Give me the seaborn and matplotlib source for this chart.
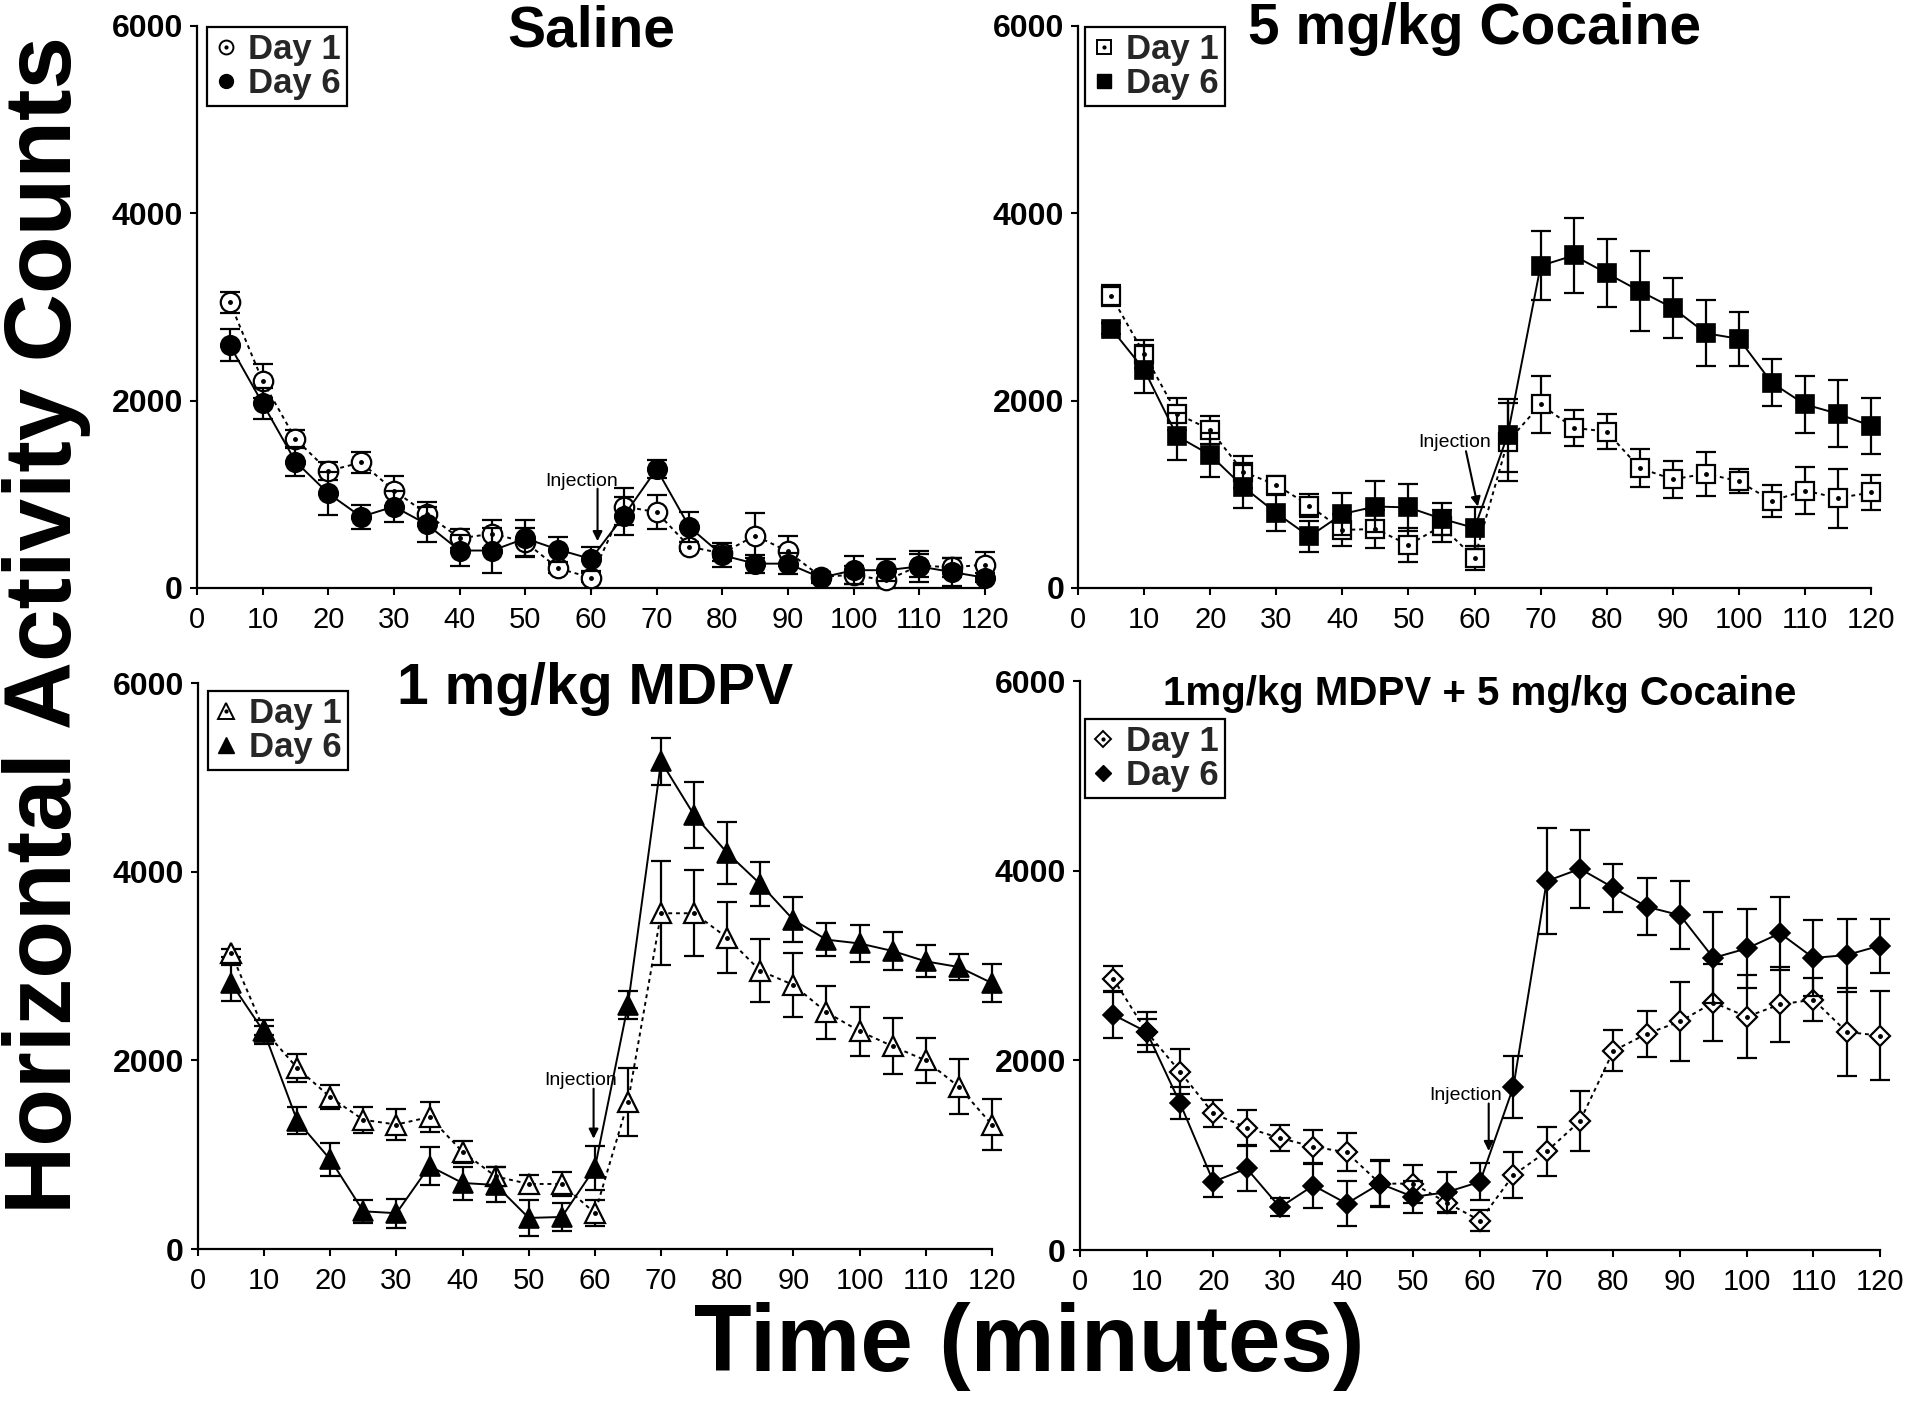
import matplotlib
matplotlib.use("Agg")
import seaborn as sns
import matplotlib.pyplot as plt
from matplotlib.lines import Line2D

# time bins (minutes)
minutes = list(range(5, 125, 5))

# Saline
saline_day1 = [3050, 2210, 1590, 1250, 1340, 1040, 790, 530, 580, 490, 210, 110,
               870, 810, 440, 370, 560, 390, 120, 140, 80, 240, 220, 250]
saline_day1_err = [115, 185, 100, 100, 110, 160, 130, 100, 150, 150, 50, 50,
                   200, 180, 50, 80, 240, 160, 50, 100, 80, 120, 100, 130]
saline_day6 = [2590, 1970, 1350, 1010, 760, 870, 680, 400, 400, 530, 410, 310,
               770, 1270, 650, 350, 260, 260, 110, 190, 190, 230, 170, 110]
saline_day6_err = [170, 170, 150, 230, 125, 165, 190, 170, 240, 200, 130, 125,
                   200, 100, 160, 130, 95, 115, 60, 150, 120, 170, 150, 50]

# 5 mg/kg cocaine
coc_day1 = [3120, 2500, 1860, 1690, 1240, 1100, 880, 620, 630, 460, 660, 320,
            1560, 1960, 1710, 1670, 1280, 1160, 1220, 1140, 930, 1040, 960, 1020]
coc_day1_err = [110, 150, 170, 150, 170, 100, 125, 170, 200, 180, 170, 125,
                420, 300, 190, 190, 200, 200, 235, 130, 170, 250, 315, 190]
coc_day6 = [2770, 2330, 1620, 1420, 1080, 800, 550, 790, 870, 860, 740, 640,
            1630, 3440, 3550, 3360, 3170, 2990, 2720, 2660, 2190, 1960, 1860, 1730]
coc_day6_err = [60, 250, 250, 240, 230, 190, 165, 220, 270, 255, 170, 225,
                390, 370, 400, 365, 425, 320, 350, 290, 250, 300, 360, 300]

# 1 mg/kg MDPV
mdpv_day1 = [3140, 2320, 1920, 1610, 1370, 1320, 1400, 1030, 770, 690, 690, 380,
             1560, 3560, 3560, 3300, 2950, 2800, 2510, 2310, 2150, 2000, 1720, 1320]
mdpv_day1_err = [40, 50, 145, 125, 135, 160, 160, 120, 105, 95, 125, 135,
                 360, 550, 455, 375, 335, 340, 280, 260, 295, 240, 290, 275]
mdpv_day6 = [2820, 2300, 1360, 950, 400, 380, 880, 700, 680, 330, 340, 860,
             2590, 5170, 4600, 4200, 3870, 3490, 3280, 3240, 3160, 3050, 2990, 2820]
mdpv_day6_err = [190, 125, 145, 175, 125, 155, 205, 175, 185, 190, 150, 230,
                 150, 245, 350, 330, 235, 240, 175, 200, 205, 170, 140, 200]

# 1 mg/kg MDPV + 5 mg/kg cocaine
combo_day1 = [2860, 2300, 1880, 1440, 1290, 1180, 1090, 1030, 700, 700, 500, 310,
              790, 1040, 1360, 2100, 2280, 2410, 2610, 2460, 2590, 2640, 2300, 2260]
combo_day1_err = [130, 135, 235, 140, 185, 140, 180, 200, 250, 200, 105, 110,
                  245, 255, 315, 215, 240, 420, 405, 440, 395, 230, 465, 470]
combo_day6 = [2480, 2300, 1550, 720, 860, 450, 680, 490, 700, 560, 610, 720,
              1720, 3890, 4020, 3820, 3620, 3530, 3080, 3180, 3340, 3080, 3110, 3210]
combo_day6_err = [245, 210, 170, 165, 240, 95, 235, 240, 235, 170, 210, 195,
                  330, 555, 410, 255, 300, 360, 480, 420, 385, 400, 385, 285]

x_ticks = list(range(0, 121, 10))
y_ticks = [0, 2000, 4000, 6000]

sns.set_theme(style="ticks")
plt.rcParams['font.family'] = ['Liberation Sans', 'DejaVu Sans']

fig = plt.figure(figsize=(19.2, 14.05), dpi=100)

panels = [
    dict(rect=[0.1026, 0.5815, 0.4104, 0.400], title="Saline", tsize=41, ty=0.9635,
         marker="o", ms=14, lms=10,
         d1=saline_day1, e1=saline_day1_err, d6=saline_day6, e6=saline_day6_err,
         leg=(0.013, 0.998),
         inj_text=(58.6, 1140), inj_from=(61, 1060), inj_to=(61, 500)),
    dict(rect=[0.5615, 0.5815, 0.4130, 0.400], title="5 mg/kg Cocaine", tsize=41, ty=0.968,
         marker="s", ms=12.5, lms=9.5,
         d1=coc_day1, e1=coc_day1_err, d6=coc_day6, e6=coc_day6_err,
         leg=(0.009, 0.998),
         inj_text=(57.0, 1550), inj_from=(58.7, 1460), inj_to=(60.5, 870)),
    dict(rect=[0.1031, 0.1110, 0.4135, 0.4028], title="1 mg/kg MDPV", tsize=41, ty=0.963,
         marker="^", ms=15, lms=11,
         d1=mdpv_day1, e1=mdpv_day1_err, d6=mdpv_day6, e6=mdpv_day6_err,
         leg=(0.0126, 0.986),
         inj_text=(57.8, 1790), inj_from=(59.8, 1700), inj_to=(59.8, 1170)),
    dict(rect=[0.5625, 0.1103, 0.4167, 0.4050], title="1mg/kg MDPV + 5 mg/kg Cocaine", tsize=29, ty=0.958,
         marker="D", ms=10.5, lms=8,
         d1=combo_day1, e1=combo_day1_err, d6=combo_day6, e6=combo_day6_err,
         leg=(0.006, 0.933),
         inj_text=(57.8, 1630), inj_from=(61.3, 1545), inj_to=(61.3, 1044)),
]

for p in panels:
    ax = fig.add_axes(p["rect"])

    # error bars
    ax.errorbar(minutes, p["d1"], yerr=p["e1"], fmt="none", ecolor="black",
                elinewidth=1.6, capsize=7, capthick=1.6, zorder=2, clip_on=False)
    ax.errorbar(minutes, p["d6"], yerr=p["e6"], fmt="none", ecolor="black",
                elinewidth=1.6, capsize=7, capthick=1.6, zorder=4, clip_on=False)

    # Day 1: open markers, dotted line
    sns.lineplot(x=minutes, y=p["d1"], ax=ax, color="black", linewidth=1.4,
                 linestyle=(0, (2, 2)), marker=p["marker"], markersize=p["ms"],
                 markerfacecolor="white", markeredgecolor="black",
                 markeredgewidth=1.6, errorbar=None, zorder=3, clip_on=False)
    ax.plot(minutes, p["d1"], linestyle="none", marker="o", markersize=2.5,
            color="black", zorder=3.5, clip_on=False)

    # Day 6: filled markers, solid line
    sns.lineplot(x=minutes, y=p["d6"], ax=ax, color="black", linewidth=1.4,
                 marker=p["marker"], markersize=p["ms"],
                 markerfacecolor="black", markeredgecolor="black",
                 markeredgewidth=1.2, errorbar=None, zorder=5, clip_on=False)

    ax.set_xlim(0, 120)
    ax.set_ylim(0, 6000)
    ax.set_xticks(x_ticks)
    ax.set_yticks(y_ticks)
    ax.set_xticklabels([str(v) for v in x_ticks], fontsize=21)
    ax.set_yticklabels([str(v) for v in y_ticks], fontsize=23, fontweight="bold")
    ax.tick_params(axis="x", direction="out", length=5, width=1.5, pad=8, colors="black")
    ax.tick_params(axis="y", direction="out", length=5, width=1.5, pad=5, colors="black")
    sns.despine(ax=ax)
    for side in ["left", "bottom"]:
        ax.spines[side].set_linewidth(1.6)
        ax.spines[side].set_color("black")
    ax.set_xlabel("")
    ax.set_ylabel("")

    ax.text(0.5, p["ty"], p["title"], transform=ax.transAxes, ha="center",
            va="baseline", fontsize=p["tsize"], fontweight="bold", color="black")

    # injection marker
    ax.text(p["inj_text"][0], p["inj_text"][1], "Injection", ha="center",
            va="center", fontsize=14, color="black")
    ax.annotate("", xy=p["inj_to"], xytext=p["inj_from"],
                arrowprops=dict(arrowstyle="-|>", color="black", lw=1.5,
                                mutation_scale=14, shrinkA=0, shrinkB=0))

    # legend
    h1 = Line2D([], [], linestyle="none", marker=p["marker"], markersize=p["lms"],
                markerfacecolor="white", markeredgecolor="black", markeredgewidth=1.4)
    hdot = Line2D([], [], linestyle="none", marker="o", markersize=2, color="black")
    h6 = Line2D([], [], linestyle="none", marker=p["marker"], markersize=p["lms"],
                markerfacecolor="black", markeredgecolor="black")
    leg = ax.legend(handles=[(h1, hdot), h6], labels=["Day 1", "Day 6"],
                    loc="upper left", bbox_to_anchor=p["leg"], frameon=True,
                    fancybox=False, framealpha=1, edgecolor="black",
                    prop=dict(weight="bold", size=25), handlelength=0.7,
                    handletextpad=0.3, borderpad=0.18, labelspacing=0.02,
                    borderaxespad=0)
    leg.get_frame().set_linewidth(1.6)

fig.text(0.024, 0.555, "Horizontal Activity Counts", rotation=90, ha="center",
         va="center", fontsize=68, fontweight="bold", color="black")
fig.text(0.536, 0.024, "Time (minutes)", ha="center", va="baseline",
         fontsize=68, fontweight="bold", color="black")

fig.savefig("out.png", dpi=100, facecolor="white")
